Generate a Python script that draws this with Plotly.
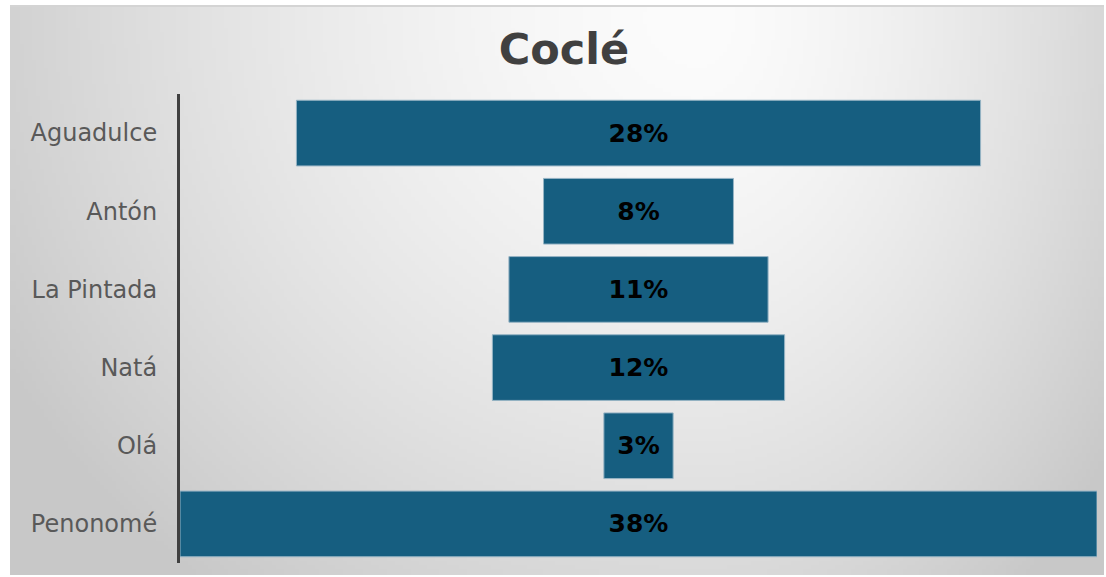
import base64, struct, zlib
import numpy as np
import plotly.graph_objects as go

# ---- data ----
categories = ["Aguadulce", "Antón", "La Pintada", "Natá", "Olá", "Penonomé"]
values = [28.35, 7.87, 10.74, 12.11, 2.87, 38.0]
labels = ["28%", "8%", "11%", "12%", "3%", "38%"]
title_text = "Coclé"

W, H = 1106, 577
L, R, T, B = 180, 9, 94, 14
PW, PH = W - L - R, H - T - B

# ---- gradient background image (style only) ----
def make_png(arr):
    h, w = arr.shape[:2]
    raw = b"".join(b"\x00" + arr[i].tobytes() for i in range(h))
    def chunk(t, d):
        c = struct.pack(">I", len(d)) + t + d
        return c + struct.pack(">I", zlib.crc32(t + d) & 0xffffffff)
    png = b"\x89PNG\r\n\x1a\n"
    png += chunk(b"IHDR", struct.pack(">IIBBBBB", w, h, 8, 2, 0, 0, 0))
    png += chunk(b"IDAT", zlib.compress(raw, 9))
    png += chunk(b"IEND", b"")
    return "data:image/png;base64," + base64.b64encode(png).decode()

fx0, fx1, fy0, fy1 = 10, 1104, 6, 575
iw, ih = 274, 142
xs = np.linspace(fx0, fx1, iw)
ys = np.linspace(fy0, fy1, ih)
X, Y = np.meshgrid(xs, ys)
cx, cy = 700, 15
sx = np.where(X < cx, 800, 520)
d = np.sqrt(((X - cx) / sx) ** 2 + ((Y - cy) / 740) ** 2)
g = 252 - 52 * np.clip(d, 0, 1.2) ** 1.5
g = np.clip(g, 200, 252).astype(np.uint8)
img = np.stack([g, g, g], axis=-1)
src = make_png(img)

def px2paper_x(p):
    return (p - L) / PW

def px2paper_y(p):
    return (H - B - p) / PH

fig = go.Figure(go.Funnel(
    y=categories,
    x=values,
    text=labels,
    textinfo="text",
    textposition="inside",
    insidetextanchor="middle",
    textfont=dict(family="DejaVu Sans", size=25, color="#000000", weight="bold"),
    marker=dict(color="#165E80", line=dict(color="#96B4C4", width=1)),
    connector=dict(visible=False),
    hoverinfo="y+text",
))

fig.update_layout(
    width=W, height=H,
    margin=dict(l=L, r=R, t=T, b=B),
    paper_bgcolor="#FFFFFF",
    plot_bgcolor="rgba(0,0,0,0)",
    funnelgap=0.16,
    showlegend=False,
    title=dict(text="<b>" + title_text + "</b>", x=564 / W, xanchor="center",
               y=1 - 49 / H, yanchor="middle",
               font=dict(family="DejaVu Sans", size=43, color="#404040")),
    images=[dict(source=src, xref="paper", yref="paper",
                 x=px2paper_x(fx0), y=px2paper_y(fy0),
                 sizex=(fx1 - fx0) / PW, sizey=(fy1 - fy0) / PH,
                 xanchor="left", yanchor="top", sizing="stretch",
                 layer="below")],
    shapes=[dict(type="line", xref="paper", yref="paper",
                 x0=px2paper_x(fx0), x1=px2paper_x(fx1),
                 y0=px2paper_y(fy0), y1=px2paper_y(fy0),
                 line=dict(color="#D4D4D4", width=2), layer="below")],
    xaxis=dict(range=[-19, 19], visible=False, fixedrange=True),
    yaxis=dict(showline=True, linecolor="#404040", linewidth=3,
               showgrid=False, zeroline=False, ticks="",
               ticklabelstandoff=15,
               tickfont=dict(family="DejaVu Sans", size=24, color="#595959")),
)

fig.write_html("out.html", config={"displayModeBar": False},
               post_script="document.body.style.margin='0';")
